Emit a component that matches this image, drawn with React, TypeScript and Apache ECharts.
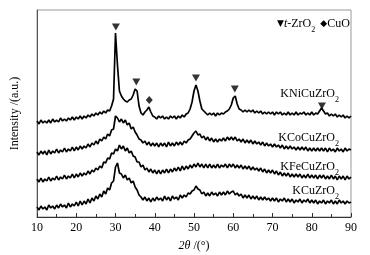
import React, { useEffect, useRef } from "react";
import * as echarts from "echarts";

// 2θ sampling of the diffractograms (degrees)
const thetaStart = 10;
const thetaStep = 0.5;

// Intensity (a.u., stacked offsets) sampled every 0.5° from 10° to 90°
const kCuZrO2 = [
  10, 7, 11, 8, 10, 7, 12, 9, 11, 8, 12, 9, 13, 10, 12, 9, 14, 10, 13, 11,
  15, 11, 16, 12, 16, 13, 18, 14, 19, 16, 21, 18, 23, 20, 26, 23, 29, 27, 34, 36,
  50, 54, 44, 43, 39, 42, 37, 39, 34, 36, 30, 27, 22, 20, 17, 20, 16, 19, 15, 19,
  16, 20, 17, 19, 16, 21, 17, 20, 16, 21, 18, 20, 17, 22, 19, 22, 20, 24, 23, 26,
  27, 31, 28, 27, 23, 25, 21, 24, 21, 25, 22, 24, 21, 25, 22, 25, 22, 26, 23, 25,
  26, 22, 24, 21, 23, 19, 22, 19, 22, 18, 21, 18, 21, 17, 20, 17, 20, 17, 19, 16,
  19, 16, 19, 15, 18, 16, 19, 15, 18, 15, 18, 14, 17, 15, 18, 14, 17, 15, 18, 14,
  17, 14, 17, 13, 16, 14, 17, 13, 16, 14, 17, 13, 16, 13, 17, 14, 16, 13, 16, 14, 15,
];
const kFeCuZrO2 = [
  38, 35, 39, 35, 38, 36, 40, 36, 39, 37, 41, 37, 40, 38, 42, 38, 41, 39, 43, 39,
  43, 40, 44, 41, 44, 42, 46, 43, 47, 45, 49, 47, 51, 49, 55, 54, 59, 58, 64, 63,
  68, 66, 72, 68, 71, 66, 69, 64, 66, 61, 60, 55, 55, 50, 52, 47, 49, 45, 48, 44,
  47, 43, 47, 43, 47, 44, 48, 44, 48, 45, 49, 46, 50, 46, 51, 47, 51, 48, 52, 49,
  53, 50, 54, 50, 53, 49, 53, 49, 53, 49, 52, 49, 53, 49, 52, 50, 53, 49, 53, 50,
  53, 49, 52, 49, 52, 48, 51, 48, 51, 47, 50, 47, 49, 46, 49, 45, 48, 44, 47, 44,
  47, 43, 46, 42, 45, 41, 44, 41, 44, 40, 43, 40, 43, 40, 43, 39, 42, 39, 43, 39,
  42, 39, 42, 38, 42, 39, 42, 38, 41, 38, 42, 38, 41, 37, 41, 38, 41, 37, 41, 38, 40,
];
const kCoCuZrO2 = [
  65, 62, 66, 63, 66, 62, 67, 63, 66, 64, 68, 64, 67, 65, 69, 65, 68, 66, 70, 66,
  70, 67, 71, 68, 71, 69, 73, 70, 74, 72, 76, 73, 78, 76, 80, 78, 83, 81, 87, 88,
  101, 99, 95, 98, 94, 97, 92, 94, 88, 90, 85, 82, 78, 77, 74, 76, 72, 75, 71, 74,
  71, 74, 70, 74, 71, 74, 70, 75, 71, 74, 71, 75, 72, 75, 72, 76, 74, 77, 78, 81,
  84, 86, 82, 83, 79, 81, 77, 80, 76, 79, 75, 78, 75, 78, 76, 79, 76, 80, 77, 80,
  77, 80, 76, 78, 75, 78, 74, 77, 74, 77, 73, 76, 73, 75, 72, 75, 71, 74, 71, 73,
  70, 73, 70, 72, 69, 72, 68, 71, 68, 71, 68, 70, 67, 70, 67, 70, 67, 70, 66, 69,
  66, 69, 66, 69, 66, 69, 66, 69, 65, 69, 66, 68, 65, 69, 66, 68, 65, 69, 66, 68, 67,
];
const kNiCuZrO2 = [
  96, 93, 97, 94, 96, 94, 97, 94, 98, 95, 97, 95, 99, 96, 98, 96, 99, 97, 100, 97,
  100, 98, 101, 98, 101, 99, 102, 100, 103, 101, 104, 102, 105, 103, 106, 104, 107, 106, 111, 118,
  184, 152, 126, 121, 118, 116, 115, 117, 118, 122, 128, 126, 111, 104, 102, 105, 107, 110, 105, 101,
  100, 98, 101, 99, 101, 98, 100, 98, 101, 99, 101, 98, 101, 99, 102, 100, 103, 104, 108, 115,
  126, 132, 126, 116, 108, 106, 104, 102, 104, 102, 104, 101, 104, 102, 104, 103, 105, 106, 108, 112,
  119, 121, 113, 108, 107, 105, 107, 105, 107, 105, 107, 104, 106, 104, 106, 103, 105, 103, 105, 103,
  105, 102, 105, 103, 105, 102, 104, 102, 105, 102, 104, 102, 105, 102, 104, 103, 105, 102, 104, 102,
  105, 102, 104, 103, 106, 109, 106, 103, 104, 101, 103, 101, 103, 100, 102, 100, 102, 99, 101, 99, 101,
];

// Reflection markers on the KNiCuZrO2 pattern: [2θ, marker height]
const zro2Peaks = [
  [30.1, 190],
  [35.3, 135],
  [50.5, 139],
  [60.4, 128],
  [82.6, 111],
];
const cuoPeaks = [[38.6, 117]];

// Sample names (label text) in order top to bottom
const sampleNames = ["KNiCu", "KCoCu", "KFeCu", "KCu"];
const labelY = [93, 137, 166, 190];

// X axis ticks
const xMin = 10;
const xMax = 90;
const xInterval = 10;

const toPairs = (vals: number[]) =>
  vals.map((v, i) => [thetaStart + i * thetaStep, v]);

const FONT = "Liberation Serif";

export default function App() {
  const ref = useRef<HTMLDivElement>(null);
  useEffect(() => {
    if (!ref.current) return;
    const chart = echarts.init(ref.current, undefined, { renderer: "svg" });
    const lineSeries = [kCuZrO2, kFeCuZrO2, kCoCuZrO2, kNiCuZrO2].map((vals) => ({
      type: "line",
      data: toPairs(vals),
      showSymbol: false,
      symbol: "none",
      lineStyle: { color: "#000", width: 1.7 },
      silent: true,
    }));
    const subRich = {
      m: { fontFamily: FONT, fontSize: 12, color: "#000", lineHeight: 14 },
      s: {
        fontFamily: FONT,
        fontSize: 8,
        color: "#000",
        lineHeight: 14,
        verticalAlign: "bottom",
        padding: [0, 0, -3, 0],
      },
      i: { fontFamily: FONT, fontSize: 12, fontStyle: "italic", color: "#000", lineHeight: 14 },
      k: { fontFamily: "DejaVu Sans", fontSize: 9, color: "#000", lineHeight: 14 },
      g: { fontFamily: FONT, fontSize: 12, color: "#000", lineHeight: 14, width: 5 },
    };
    chart.setOption({
      animation: false,
      grid: {
        left: 36,
        right: 19,
        top: 10,
        bottom: 38,
        show: true,
        borderColor: "#999",
        borderWidth: 1,
      },
      xAxis: {
        type: "value",
        min: xMin,
        max: xMax,
        interval: xInterval,
        axisLine: { onZero: false, lineStyle: { color: "#333", width: 1 } },
        axisTick: { inside: true, length: 4, lineStyle: { color: "#333" } },
        minorTick: { show: true, splitNumber: 2, length: 3, lineStyle: { color: "#333" } },
        splitLine: { show: false },
        axisLabel: { color: "#000", fontFamily: FONT, fontSize: 12, margin: 4 },
      },
      yAxis: {
        type: "value",
        min: 0,
        max: 207,
        axisLine: { show: true, lineStyle: { color: "#555" } },
        axisTick: { show: false },
        axisLabel: { show: false },
        splitLine: { show: false },
        name: "Intensity /(a.u.)",
        nameLocation: "middle",
        nameGap: 17,
        nameTextStyle: { fontFamily: FONT, fontSize: 12, color: "#000" },
      },
      series: [
        ...lineSeries,
        {
          type: "scatter",
          data: zro2Peaks,
          symbol: "triangle",
          symbolRotate: 180,
          symbolSize: [8, 7],
          itemStyle: { color: "#000" },
          silent: true,
        },
        {
          type: "scatter",
          data: cuoPeaks,
          symbol: "diamond",
          symbolSize: [7, 8],
          itemStyle: { color: "#000" },
          silent: true,
        },
      ],
      graphic: [
        {
          type: "text",
          x: 194,
          y: 245,
          style: {
            text: "{i|2θ}{m| /(°)}",
            rich: subRich,
            fontFamily: FONT,
            fontSize: 12,
            align: "center",
            verticalAlign: "middle",
          },
        },
        {
          type: "text",
          x: 277,
          y: 23,
          style: {
            text: "{k|▼}{i|t}{m|-ZrO}{s|2}{g|}{k|◆}{m|CuO}",
            rich: subRich,
            fontFamily: FONT,
            fontSize: 12,
            verticalAlign: "middle",
            align: "left",
          },
        },
        ...sampleNames.map((n, idx) => ({
          type: "text",
          x: 339,
          y: labelY[idx],
          style: {
            text: `{m|${n}ZrO}{s|2}`,
            rich: subRich,
            fontFamily: FONT,
            fontSize: 12,
            align: "right",
            verticalAlign: "middle",
          },
        })),
      ],
    });
    return () => chart.dispose();
  }, []);
  return (
    <div
      ref={ref}
      style={{ position: "fixed", left: 0, top: 0, width: 370, height: 255 }}
    />
  );
}
